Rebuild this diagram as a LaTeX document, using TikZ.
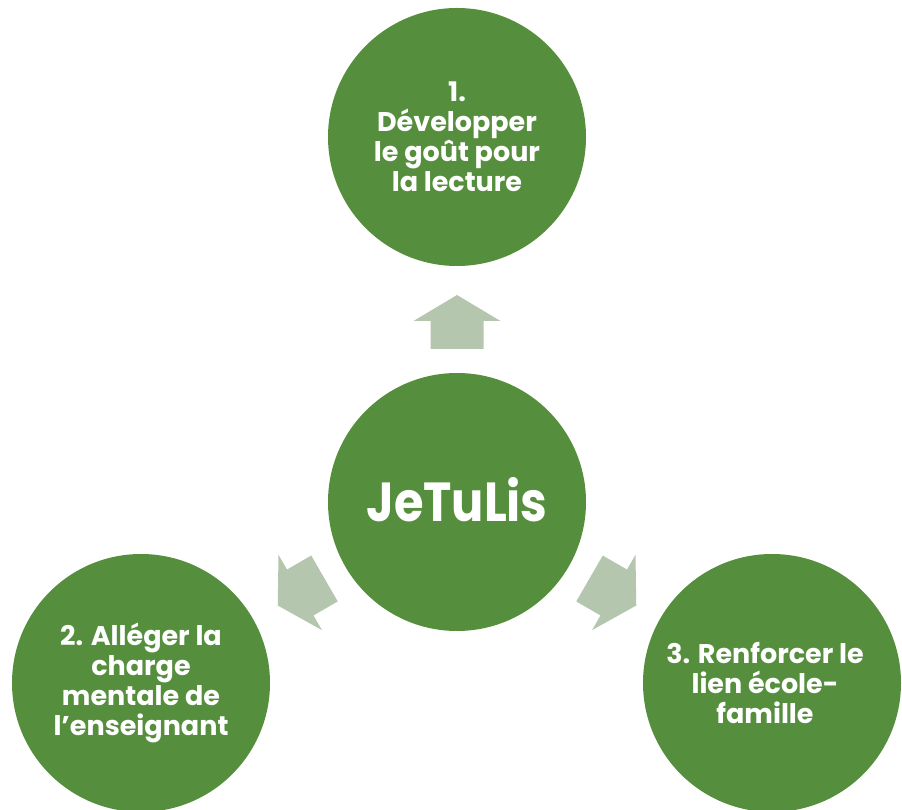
\documentclass[tikz,border=0pt]{standalone}
\usepackage{fontspec}
\setmainfont{Poppins}
\newfontfamily\jtlfont[FakeStretch=0.87]{Poppins}
\usetikzlibrary{calc}
\definecolor{circgreen}{HTML}{558F3D}
\definecolor{arrowgreen}{HTML}{B4C7AE}
\begin{document}
\begin{tikzpicture}[x=1pt,y=1pt,
  bubble/.style={circle, fill=circgreen, minimum size=258pt, inner sep=0pt},
  bubbletext/.style={text=white, align=center, font=\bfseries\fontsize{27}{30}\selectfont},
  blockarrow/.style={fill=arrowgreen}]
\useasboundingbox (0,0) rectangle (902,809);
\node[bubble] (c) at (457,307) {};
\node[bubble] (t) at (457,672) {};
\node[bubble] (l) at (141,126) {};
\node[bubble] (r) at (772,126) {};
\node[text=white, font=\jtlfont\bfseries\fontsize{55}{60}\selectfont] (ct) at ([yshift=2pt]c.center) {JeTuLis};
\node[bubbletext] (tt) at (t.center) {1.\\Développer\\le goût pour\\la lecture};
\node[bubbletext] (lt) at (l.center) {2. Alléger la\\charge\\mentale de\\l’enseignant};
\node[bubbletext] (rt) at ([xshift=-7pt]r.center) {3. Renforcer le\\lien école-\\famille};
\foreach \a in {90,210,330}{
  \begin{scope}[shift={(c.center)}, rotate=\a]
    \fill[blockarrow] (153,-26.5) -- (181,-26.5) -- (181,-43.5) -- (207,0) -- (181,43.5) -- (181,26.5) -- (153,26.5) -- cycle;
  \end{scope}
}
\end{tikzpicture}
\end{document}
